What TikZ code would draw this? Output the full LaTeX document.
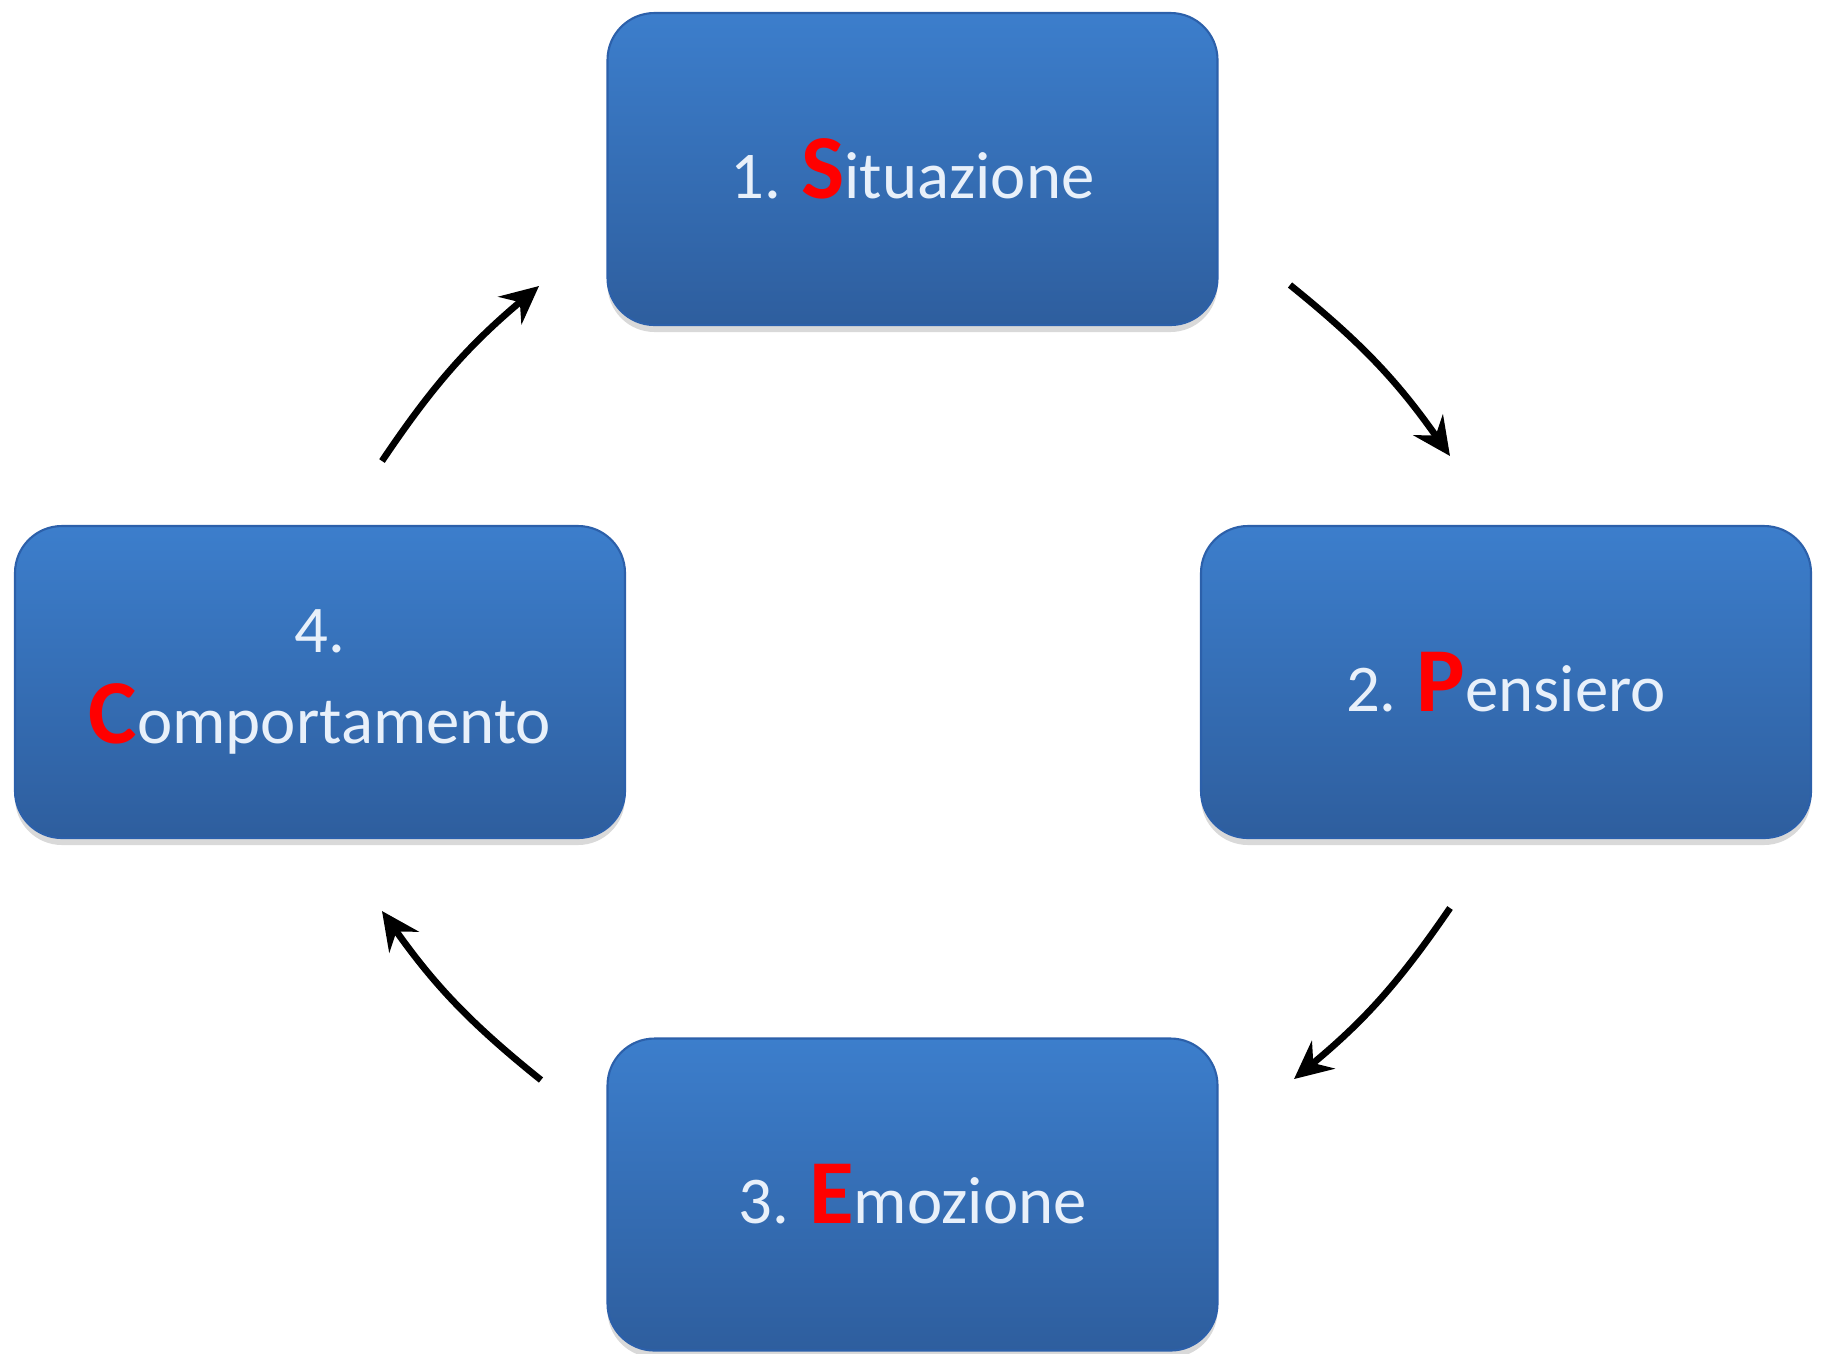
\documentclass[tikz,border=0pt]{standalone}
\usepackage{fontspec}
\setmainfont{Carlito}
\usetikzlibrary{shadows,arrows.meta}
\definecolor{boxtop}{RGB}{60,126,204}
\definecolor{boxbottom}{RGB}{46,94,158}
\definecolor{boxline}{RGB}{44,96,170}
\definecolor{labeltext}{RGB}{232,240,250}
\newcommand{\initial}[1]{{\color{red}\fontsize{26}{26}\selectfont\bfseries #1}}
\tikzset{
  phase/.style={rectangle, rounded corners=0.47cm, minimum width=6.1cm, minimum height=3.12cm,
    top color=boxtop, bottom color=boxbottom, draw=boxline, line width=0.6pt,
    text=labeltext, font=\fontsize{19}{26}\selectfont, align=center,
    drop shadow={shadow xshift=0pt, shadow yshift=-0.07cm, opacity=0.3}},
  cycle/.style={-{Stealth[length=3.8mm,width=3.6mm,inset=1.3mm]}, line width=1.9pt, bend left=8}
}
\begin{document}
\begin{tikzpicture}
\useasboundingbox (0,0) rectangle (18.25,-13.53);
\node[phase](S) at (9.125,-1.69) {1. \initial{S}ituazione};
\node[phase](P) at (15.06,-6.82) {2. \initial{P}ensiero};
\node[phase](E) at (9.125,-11.945) {3. \initial{E}mozione};
\node[phase](C) at (3.2,-6.82) {4.\\\initial{C}omportamento};
% arrow ends
\coordinate(SP1) at (12.90,-2.85);
\coordinate(SP2) at (14.50,-4.56);
\coordinate(PE1) at (14.50,-9.08);
\coordinate(PE2) at (12.94,-10.79);
\coordinate(EC1) at (5.41,-10.80);
\coordinate(EC2) at (3.82,-9.11);
\coordinate(CS1) at (3.82,-4.61);
\coordinate(CS2) at (5.39,-2.86);
\draw[cycle](SP1) to (SP2);
\draw[cycle](PE1) to (PE2);
\draw[cycle](EC1) to (EC2);
\draw[cycle](CS1) to (CS2);
\end{tikzpicture}
\end{document}
